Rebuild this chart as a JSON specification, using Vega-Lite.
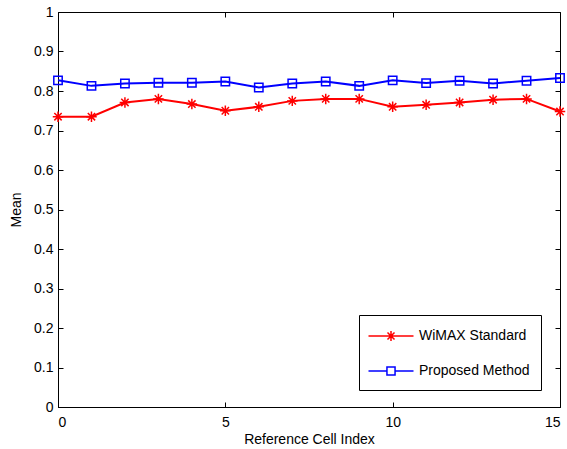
{
  "$schema": "https://vega.github.io/schema/vega-lite/v6.json",
  "width": 502,
  "height": 395,
  "autosize": "none",
  "padding": {"left": 58, "top": 12, "right": 7, "bottom": 42},
  "background": "white",
  "config": {
    "view": {"stroke": "black", "strokeWidth": 1},
    "font": "Liberation Sans",
    "axis": {
      "grid": false,
      "domainColor": "black",
      "tickColor": "black",
      "tickSize": -5,
      "labelColor": "black",
      "labelFontSize": 14,
      "labelFont": "Liberation Sans",
      "titleFont": "Liberation Sans",
      "titleFontSize": 14,
      "titleFontWeight": "normal",
      "titleColor": "black"
    }
  },
  "data": {
    "values": [
      {"idx": 0, "series": "WiMAX Standard", "mean": 0.735},
      {"idx": 1, "series": "WiMAX Standard", "mean": 0.735},
      {"idx": 2, "series": "WiMAX Standard", "mean": 0.771},
      {"idx": 3, "series": "WiMAX Standard", "mean": 0.780},
      {"idx": 4, "series": "WiMAX Standard", "mean": 0.767},
      {"idx": 5, "series": "WiMAX Standard", "mean": 0.750},
      {"idx": 6, "series": "WiMAX Standard", "mean": 0.760},
      {"idx": 7, "series": "WiMAX Standard", "mean": 0.775},
      {"idx": 8, "series": "WiMAX Standard", "mean": 0.780},
      {"idx": 9, "series": "WiMAX Standard", "mean": 0.780},
      {"idx": 10, "series": "WiMAX Standard", "mean": 0.760},
      {"idx": 11, "series": "WiMAX Standard", "mean": 0.765},
      {"idx": 12, "series": "WiMAX Standard", "mean": 0.771},
      {"idx": 13, "series": "WiMAX Standard", "mean": 0.778},
      {"idx": 14, "series": "WiMAX Standard", "mean": 0.780},
      {"idx": 15, "series": "WiMAX Standard", "mean": 0.748},
      {"idx": 0, "series": "Proposed Method", "mean": 0.827},
      {"idx": 1, "series": "Proposed Method", "mean": 0.813},
      {"idx": 2, "series": "Proposed Method", "mean": 0.819},
      {"idx": 3, "series": "Proposed Method", "mean": 0.821},
      {"idx": 4, "series": "Proposed Method", "mean": 0.821},
      {"idx": 5, "series": "Proposed Method", "mean": 0.824},
      {"idx": 6, "series": "Proposed Method", "mean": 0.809},
      {"idx": 7, "series": "Proposed Method", "mean": 0.819},
      {"idx": 8, "series": "Proposed Method", "mean": 0.824},
      {"idx": 9, "series": "Proposed Method", "mean": 0.813},
      {"idx": 10, "series": "Proposed Method", "mean": 0.827},
      {"idx": 11, "series": "Proposed Method", "mean": 0.820},
      {"idx": 12, "series": "Proposed Method", "mean": 0.826},
      {"idx": 13, "series": "Proposed Method", "mean": 0.819},
      {"idx": 14, "series": "Proposed Method", "mean": 0.826},
      {"idx": 15, "series": "Proposed Method", "mean": 0.833}
    ]
  },
  "resolve": {"axis": {"x": "independent", "y": "independent"}},
  "layer": [
    {
      "mark": {"type": "line", "strokeWidth": 2},
      "encoding": {
        "x": {"field": "idx", "type": "quantitative", "scale": {"domain": [0, 15], "nice": false},
          "axis": {"values": [0, 5, 10, 15], "title": "Reference Cell Index", "labelPadding": 13, "titlePadding": 3}},
        "y": {"field": "mean", "type": "quantitative", "scale": {"domain": [0, 1], "nice": false},
          "axis": {"values": [0, 0.1, 0.2, 0.3, 0.4, 0.5, 0.6, 0.7, 0.8, 0.9, 1], "format": ".1~f", "title": "Mean", "labelPadding": 10, "titlePadding": 10}},
        "color": {"field": "series", "type": "nominal",
          "scale": {"domain": ["WiMAX Standard", "Proposed Method"], "range": ["#ff0000", "#0000ff"]},
          "legend": {
            "orient": "none", "legendX": 301, "legendY": 303, "title": null,
            "strokeColor": "black", "fillColor": "white", "padding": 11,
            "labelFontSize": 14, "labelFont": "Liberation Sans", "labelColor": "black",
            "symbolSize": 324, "symbolStrokeWidth": 1.5, "rowPadding": 17,
            "symbolOffset": 11, "labelOffset": 18,
            "encode": {"symbols": {"update": {
              "shape": {"signal": "datum.value === 'WiMAX Standard' ? 'M-2.5,0H2.5M0,-0.55V0.55M-0.55,0H0.55M-0.39,-0.39L0.39,0.39M-0.39,0.39L0.39,-0.39' : 'M-2.5,0H-0.45M0.45,0H2.5M-0.45,-0.45H0.45V0.45H-0.45Z'"},
              "fill": {"value": "transparent"}
            }}}
          }}
      }
    },
    {
      "transform": [{"filter": "datum.series === 'WiMAX Standard'"}],
      "mark": {"type": "point", "filled": false, "strokeWidth": 1.5, "size": 110, "opacity": 1,
        "shape": "M0,-1V1M-1,0H1M-0.7,-0.7L0.7,0.7M-0.7,0.7L0.7,-0.7"},
      "encoding": {
        "x": {"field": "idx", "type": "quantitative", "axis": null},
        "y": {"field": "mean", "type": "quantitative", "axis": null},
        "color": {"field": "series", "type": "nominal", "legend": null}
      }
    },
    {
      "transform": [{"filter": "datum.series === 'Proposed Method'"}],
      "mark": {"type": "point", "filled": false, "strokeWidth": 1.5, "size": 110, "opacity": 1,
        "shape": "M-0.8,-0.8H0.8V0.8H-0.8Z"},
      "encoding": {
        "x": {"field": "idx", "type": "quantitative", "axis": null},
        "y": {"field": "mean", "type": "quantitative", "axis": null},
        "color": {"field": "series", "type": "nominal", "legend": null}
      }
    },
    {
      "mark": {"type": "point", "opacity": 0},
      "encoding": {
        "x": {"field": "idx", "type": "quantitative",
          "axis": {"orient": "top", "values": [0, 5, 10, 15], "labels": false, "title": null, "domain": false}},
        "y": {"field": "mean", "type": "quantitative",
          "axis": {"orient": "right", "values": [0, 0.1, 0.2, 0.3, 0.4, 0.5, 0.6, 0.7, 0.8, 0.9, 1], "labels": false, "title": null, "domain": false}}
      }
    }
  ]
}
